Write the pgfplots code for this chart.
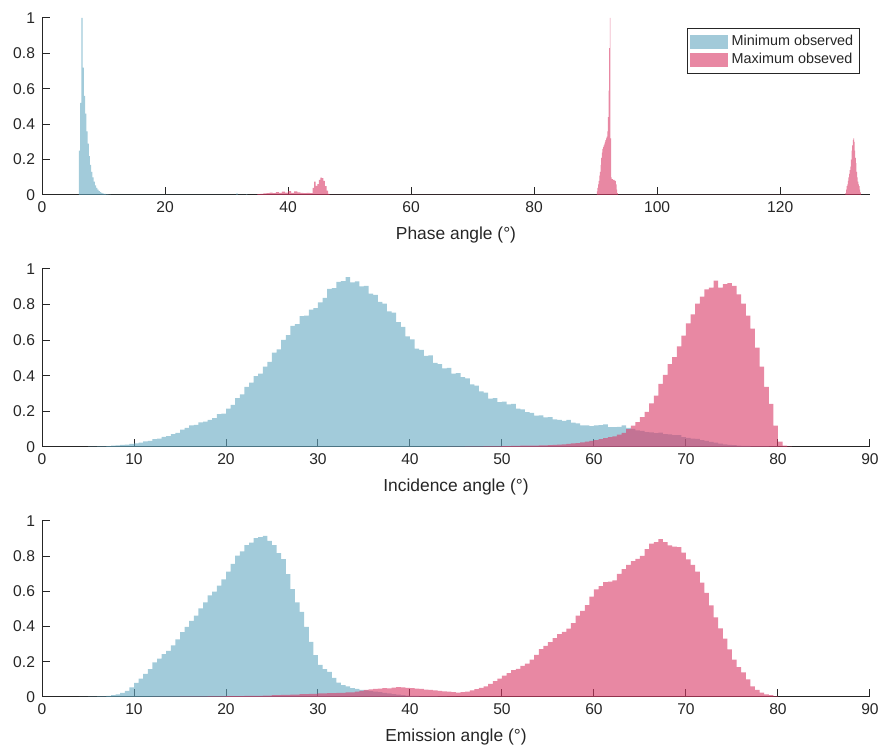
\documentclass[border=0pt]{standalone}
\usepackage{fontspec}
\setmainfont{Liberation Sans}
\usepackage{pgfplots}
\usepackage{pgfplotstable}
\pgfplotsset{compat=1.18}
\definecolor{cblue}{RGB}{100,168,193}
\definecolor{cpink}{RGB}{217,57,102}
\definecolor{axgray}{RGB}{38,38,38}

% ---------- Panel 1: phase angle ----------
\pgfplotstableread{
x y
6.0 0.25
6.2 0.52
6.4 1.0
6.6 0.72
6.8 0.56
7.0 0.46
7.2 0.36
7.4 0.29
7.6 0.22
7.8 0.17
8.0 0.13
8.2 0.10
8.4 0.075
8.6 0.055
8.8 0.04
9.0 0.03
9.2 0.022
9.4 0.016
9.6 0.012
9.8 0.009
10.0 0.006
10.4 0.004
10.8 0.002
11.2 0
31.6 0.009
31.8 0
33.2 0.004
33.4 0
}\phaseblue

\pgfplotstableread{
x y
35.0 0.005
35.5 0.007
36.0 0.009
36.5 0.011
37.0 0.013
37.5 0.010
38.0 0.016
38.5 0.012
39.0 0.019
39.5 0.014
40.0 0.022
40.5 0.012
41.0 0.020
41.5 0.015
42.0 0.012
42.5 0.010
43.0 0.012
43.5 0.010
44.0 0.040
44.25 0.075
44.5 0.052
44.75 0.062
45.0 0.085
45.25 0.098
45.5 0.095
45.75 0.080
46.0 0.050
46.25 0.025
46.5 0.006
46.75 0
90.2 0.02
90.3 0.04
90.4 0.06
90.5 0.08
90.6 0.11
90.7 0.13
90.8 0.17
90.9 0.21
91.0 0.24
91.1 0.26
91.2 0.27
91.3 0.28
91.4 0.29
91.5 0.30
91.6 0.31
91.7 0.32
91.8 0.33
91.9 0.36
92.0 0.44
92.1 0.59
92.2 0.83
92.3 1.0
92.4 0.32
92.5 0.10
92.6 0.09
92.7 0.09
92.8 0.085
92.9 0.085
93.0 0.085
93.1 0.08
93.2 0.08
93.3 0.06
93.4 0.03
93.5 0.01
93.6 0
130.6 0.01
130.7 0.03
130.8 0.05
130.9 0.06
131.0 0.08
131.1 0.10
131.2 0.12
131.3 0.14
131.4 0.16
131.5 0.20
131.6 0.25
131.7 0.28
131.8 0.31
131.9 0.32
132.0 0.30
132.1 0.25
132.2 0.21
132.3 0.18
132.4 0.13
132.5 0.10
132.6 0.075
132.7 0.06
132.8 0.05
132.9 0.03
133.0 0.015
133.1 0
}\phasepink

% ---------- Panel 2: incidence angle ----------
\pgfplotstableread{
x y
5.0 0.002
5.5 0.002
6.0 0.003
6.5 0.004
7.0 0.005
7.5 0.007
8.0 0.009
8.5 0.012
9.0 0.014
9.5 0.018
10.0 0.021
10.5 0.024
11.0 0.031
11.5 0.035
12.0 0.044
12.5 0.047
13.0 0.057
13.5 0.061
14.0 0.072
14.5 0.080
15.0 0.097
15.5 0.108
16.0 0.122
16.5 0.124
17.0 0.138
17.5 0.142
18.0 0.153
18.5 0.162
19.0 0.184
19.5 0.188
20.0 0.215
20.5 0.236
21.0 0.275
21.5 0.296
22.0 0.338
22.5 0.362
23.0 0.398
23.5 0.412
24.0 0.452
24.5 0.478
25.0 0.530
25.5 0.548
26.0 0.602
26.5 0.628
27.0 0.680
27.5 0.690
28.0 0.735
28.5 0.738
29.0 0.772
29.5 0.780
30.0 0.812
30.5 0.838
31.0 0.888
31.5 0.892
32.0 0.928
32.5 0.932
33.0 0.955
33.5 0.925
34.0 0.930
34.5 0.902
35.0 0.905
35.5 0.862
36.0 0.855
36.5 0.815
37.0 0.805
37.5 0.762
38.0 0.755
38.5 0.702
39.0 0.675
39.5 0.622
40.0 0.605
40.5 0.552
41.0 0.545
41.5 0.512
42.0 0.515
42.5 0.472
43.0 0.465
43.5 0.442
44.0 0.445
44.5 0.412
45.0 0.415
45.5 0.392
46.0 0.385
46.5 0.352
47.0 0.345
47.5 0.312
48.0 0.305
48.5 0.272
49.0 0.275
49.5 0.252
50.0 0.255
50.5 0.240
51.0 0.242
51.5 0.215
52.0 0.212
52.5 0.196
53.0 0.192
53.5 0.176
54.0 0.178
54.5 0.166
55.0 0.168
55.5 0.155
56.0 0.153
56.5 0.147
57.0 0.152
57.5 0.137
58.0 0.133
58.5 0.122
59.0 0.122
59.5 0.117
60.0 0.122
60.5 0.123
61.0 0.127
61.5 0.112
62.0 0.112
62.5 0.113
63.0 0.121
63.5 0.107
64.0 0.102
64.5 0.093
65.0 0.091
65.5 0.083
66.0 0.082
66.5 0.078
67.0 0.081
67.5 0.073
68.0 0.071
68.5 0.066
69.0 0.066
69.5 0.056
70.0 0.051
70.5 0.047
71.0 0.045
71.5 0.039
72.0 0.035
72.5 0.029
73.0 0.025
73.5 0.019
74.0 0.015
74.5 0.012
75.0 0.010
75.5 0.008
76.0 0.006
77.0 0.004
78.0 0.003
79.0 0.002
80.0 0.001
81.0 0
}\incblue

\pgfplotstableread{
x y
44.0 0.001
46.0 0.002
48.0 0.003
50.0 0.005
51.0 0.006
52.0 0.007
53.0 0.008
54.0 0.009
55.0 0.010
55.5 0.012
56.0 0.013
56.5 0.015
57.0 0.017
57.5 0.020
58.0 0.022
58.5 0.026
59.0 0.030
59.5 0.034
60.0 0.038
60.5 0.044
61.0 0.050
61.5 0.055
62.0 0.060
62.5 0.070
63.0 0.080
63.5 0.100
64.0 0.120
64.5 0.140
65.0 0.168
65.5 0.198
66.0 0.245
66.5 0.288
67.0 0.355
67.5 0.405
68.0 0.465
68.5 0.505
69.0 0.565
69.5 0.625
70.0 0.695
70.5 0.745
71.0 0.805
71.5 0.845
72.0 0.885
72.5 0.895
73.0 0.935
73.5 0.895
74.0 0.915
74.5 0.920
75.0 0.905
75.5 0.858
76.0 0.805
76.5 0.738
77.0 0.665
77.5 0.558
78.0 0.452
78.5 0.338
79.0 0.242
79.5 0.120
80.0 0.030
80.5 0.008
81.0 0.002
81.5 0
}\incpink

% ---------- Panel 3: emission angle ----------
\pgfplotstableread{
x y
4.0 0.001
5.0 0.002
6.0 0.003
6.5 0.004
7.0 0.006
7.5 0.010
8.0 0.015
8.5 0.024
9.0 0.035
9.5 0.055
10.0 0.080
10.5 0.105
11.0 0.132
11.5 0.158
12.0 0.197
12.5 0.218
13.0 0.243
13.5 0.262
14.0 0.293
14.5 0.328
15.0 0.368
15.5 0.398
16.0 0.433
16.5 0.462
17.0 0.503
17.5 0.537
18.0 0.578
18.5 0.598
19.0 0.633
19.5 0.668
20.0 0.713
20.5 0.757
21.0 0.803
21.5 0.827
22.0 0.863
22.5 0.877
23.0 0.903
23.5 0.908
24.0 0.915
24.5 0.887
25.0 0.863
25.5 0.818
26.0 0.783
26.5 0.698
27.0 0.613
27.5 0.538
28.0 0.483
28.5 0.398
29.0 0.313
29.5 0.238
30.0 0.183
30.5 0.158
31.0 0.143
31.5 0.108
32.0 0.082
32.5 0.068
33.0 0.061
33.5 0.051
34.0 0.046
34.5 0.040
35.0 0.037
35.5 0.033
36.0 0.030
36.5 0.027
37.0 0.024
37.5 0.020
38.0 0.016
38.5 0.013
39.0 0.010
39.5 0.008
40.0 0.006
41.0 0.004
42.0 0.003
43.0 0.002
44.0 0.001
45.0 0
}\emiblue

\pgfplotstableread{
x y
12.0 0.001
15.0 0.002
18.0 0.003
20.0 0.005
22.0 0.006
24.0 0.008
25.0 0.010
26.0 0.012
27.0 0.014
28.0 0.016
29.0 0.018
30.0 0.020
31.0 0.022
32.0 0.024
33.0 0.026
34.0 0.030
34.5 0.035
35.0 0.040
35.5 0.043
36.0 0.046
36.5 0.048
37.0 0.051
37.5 0.049
38.0 0.053
38.5 0.056
39.0 0.054
39.5 0.052
40.0 0.050
40.5 0.048
41.0 0.046
41.5 0.042
42.0 0.040
42.5 0.037
43.0 0.035
43.5 0.032
44.0 0.030
44.5 0.027
45.0 0.025
45.5 0.027
46.0 0.030
46.5 0.037
47.0 0.045
47.5 0.052
48.0 0.060
48.5 0.075
49.0 0.090
49.5 0.105
50.0 0.122
50.5 0.135
51.0 0.152
51.5 0.160
52.0 0.177
52.5 0.190
53.0 0.212
53.5 0.240
54.0 0.272
54.5 0.290
55.0 0.312
55.5 0.335
56.0 0.357
56.5 0.370
57.0 0.388
57.5 0.420
58.0 0.462
58.5 0.490
59.0 0.522
59.5 0.570
60.0 0.612
60.5 0.630
61.0 0.652
61.5 0.655
62.0 0.662
62.5 0.700
63.0 0.727
63.5 0.750
64.0 0.772
64.5 0.785
65.0 0.802
65.5 0.840
66.0 0.872
66.5 0.880
67.0 0.897
67.5 0.880
68.0 0.862
68.5 0.855
69.0 0.852
69.5 0.820
70.0 0.782
70.5 0.750
71.0 0.712
71.5 0.650
72.0 0.592
72.5 0.520
73.0 0.452
73.5 0.390
74.0 0.332
74.5 0.270
75.0 0.212
75.5 0.170
76.0 0.140
76.5 0.100
77.0 0.060
77.5 0.040
78.0 0.025
78.5 0.015
79.0 0.010
79.5 0.004
80.0 0
}\emipink

\pgfplotsset{
  hist/.style={
    scale only axis, width=414pt, height=88.5pt,
    xmin=0, ymin=0, ymax=1, enlargelimits=false,
    axis x line*=bottom, axis y line*=left,
    axis line style={-, axgray, line width=0.5pt},
    tick style={axgray, line width=0.5pt},
    tick align=inside, major tick length=4pt,
    ytick={0,0.2,0.4,0.6,0.8,1},
    tick label style={font=\fontsize{7.8}{9}\selectfont, text=axgray},
    label style={font=\fontsize{8.7}{10}\selectfont, text=axgray},
    xlabel style={at={(axis description cs:0.5,0)}, anchor=center, yshift=-20pt},
    /pgf/number format/assume math mode=true,
  },
  bb/.style={ybar interval, fill=cblue, draw=none, fill opacity=0.6,
    legend image code/.code={\fill[fill=cblue, fill opacity=0.6] (0pt,-3.5pt) rectangle (19pt,3.5pt);}},
  pp/.style={ybar interval, fill=cpink, draw=none, fill opacity=0.6,
    legend image code/.code={\fill[fill=cpink, fill opacity=0.6] (0pt,-3.5pt) rectangle (19pt,3.5pt);}},
}

\begin{document}
\begin{tikzpicture}
\useasboundingbox (0,0) rectangle (441.5pt,374.5pt);

\begin{axis}[hist, at={(21pt,277pt)}, anchor=south west,
  xmax=134.6, xtick={0,20,40,60,80,100,120},
  xlabel={Phase angle (°)},
  legend style={at={(axis description cs:0.988,0.943)}, anchor=north east,
    draw=axgray, line width=0.4pt, fill=white,
    font=\fontsize{7.2}{8.5}\selectfont, text=axgray,
    inner sep=1.2pt, row sep=-1.5pt},
  legend cell align=left]
\addplot[bb] table[x=x,y=y] {\phaseblue};
\addlegendentry{Minimum observed}
\addplot[pp] table[x=x,y=y] {\phasepink};
\addlegendentry{Maximum obseved}
\end{axis}

\begin{axis}[hist, at={(21pt,151pt)}, anchor=south west, height=89pt,
  xmax=90, xtick={0,10,20,30,40,50,60,70,80,90},
  xlabel={Incidence angle (°)}]
\addplot[bb] table[x=x,y=y] {\incblue};
\addplot[pp] table[x=x,y=y] {\incpink};
\end{axis}

\begin{axis}[hist, at={(21pt,26pt)}, anchor=south west, height=88pt,
  xmax=90, xtick={0,10,20,30,40,50,60,70,80,90},
  xlabel={Emission angle (°)}]
\addplot[bb] table[x=x,y=y] {\emiblue};
\addplot[pp] table[x=x,y=y] {\emipink};
\end{axis}
\end{tikzpicture}
\end{document}
